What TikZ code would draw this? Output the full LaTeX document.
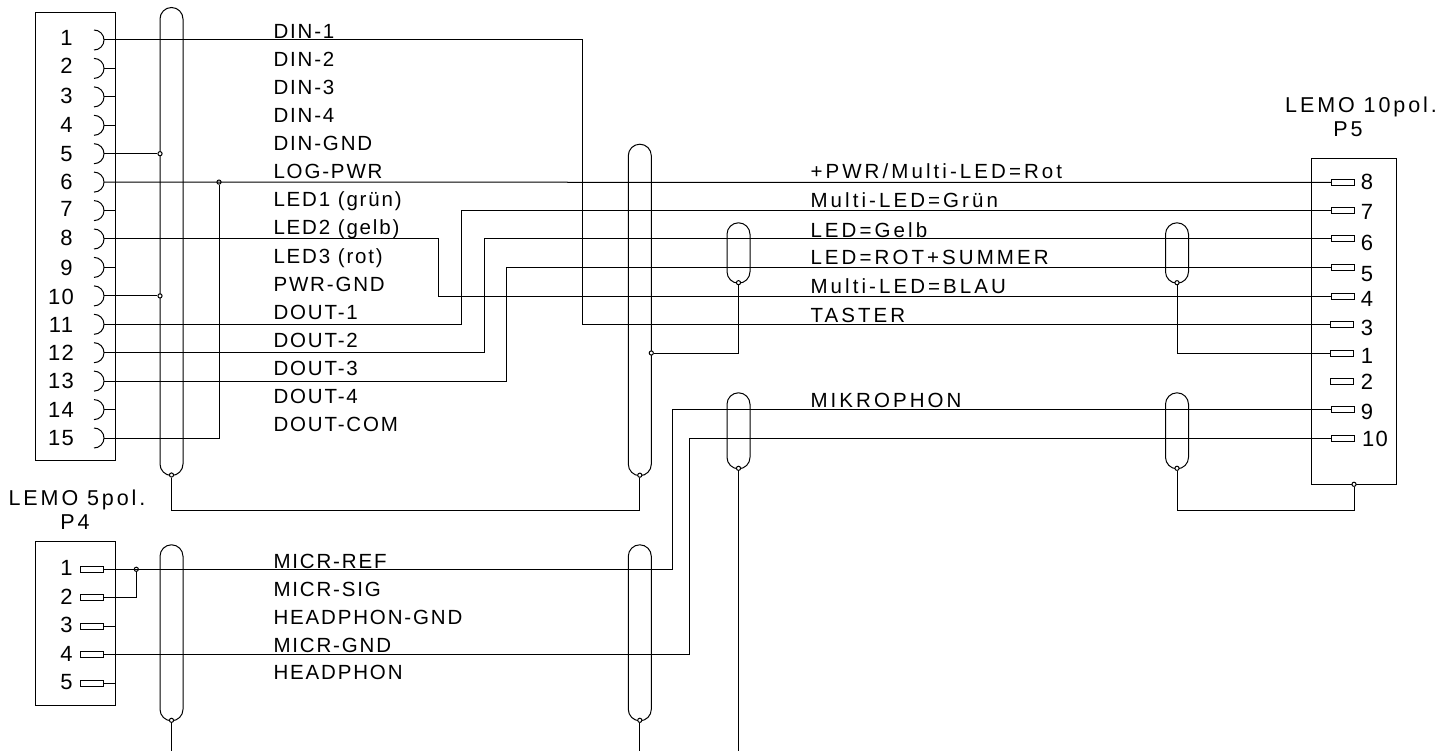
\documentclass[tikz,border=0pt]{standalone}
\usepackage{fontspec}
\setmainfont[LetterSpace=9]{Liberation Sans}
\newfontfamily\widefont[LetterSpace=15]{Liberation Sans}
\newfontfamily\titlefont[LetterSpace=13.5]{Liberation Sans}
\newfontfamily\pinfont[LetterSpace=6]{Liberation Sans}
\begin{document}
\begin{tikzpicture}[x=1pt,y=-1pt,line width=1pt,
  capsule/.style={draw,rectangle,rounded corners=11.5pt,inner sep=0pt,minimum width=23pt,minimum height=#1},
  pinrect/.style={draw,rectangle,inner sep=0pt,minimum width=23pt,minimum height=6pt},
  jdot/.style={draw,circle,inner sep=0pt,minimum size=4.2pt,fill=white},
  lbl/.style={anchor=base west,inner sep=0pt,font=\fontsize{20.5}{20.5}\selectfont},
  lblw/.style={anchor=base west,inner sep=0pt,font=\widefont\fontsize{20.5}{20.5}\selectfont},
  title/.style={anchor=base,inner sep=0pt,font=\titlefont\fontsize{21.5}{21.5}\selectfont},
  num/.style={anchor=base,inner sep=0pt,font=\pinfont\fontsize{22}{22}\selectfont}]
\useasboundingbox (0,0) rectangle (1455,751);
% connector bodies
\node[draw,inner sep=0pt,minimum width=79.7pt,minimum height=448pt,anchor=north west] (boxA) at (35,12) {};
\node[draw,inner sep=0pt,minimum width=79.7pt,minimum height=164pt,anchor=north west] (boxB) at (35,541) {};
\node[draw,inner sep=0pt,minimum width=84.8pt,minimum height=326pt,anchor=north west] (boxC) at (1310.7,158.3) {};
% capsules (shields)
\node[capsule=468pt,anchor=north] (s1) at (171.5,7) {};
\node[capsule=331.5pt,anchor=north] (s2) at (639.8,143.7) {};
\node[capsule=60.4pt,anchor=north] (s3) at (738.5,222.3) {};
\node[capsule=60.4pt,anchor=north] (s4) at (1177,222.3) {};
\node[capsule=76pt,anchor=north] (s5) at (738.5,392.3) {};
\node[capsule=76pt,anchor=north] (s6) at (1177,392.3) {};
\node[capsule=176pt,anchor=north] (s7) at (171.5,544.3) {};
\node[capsule=176pt,anchor=north] (s8) at (639.8,544.3) {};
% sockets P1
\foreach \n/\yy/\nx/\by in {1/40/66.5/46,2/68.4/66.5/74,3/96.9/66.5/104,4/125.3/66.5/132.5,5/153.7/66.5/161.5,6/182.1/66.5/190,7/210.6/66.5/217,8/239/66.5/246,9/267.4/66.5/275,10/295.9/61/304,11/324.3/61/332,12/352.7/61/360,13/381.1/61/388,14/409.6/61/417,15/438/61/445}{
  \coordinate (c\n) at (103.8,\yy);
  \coordinate (e\n) at (114.7,\yy);
  \draw (94,\yy-10) arc[start angle=-90,end angle=90,radius=10pt,y radius=-10pt];
  \node[num] (tA\n) at (\nx,\by) {\n};
}
% pins P4
\foreach \n/\yy in {1/569.3,2/597.7,3/626.2,4/654.7,5/683}{
  \node[pinrect] (q\n) at (92,\yy) {};
  \coordinate (qe\n) at (114.7,\yy);
  \node[num] (tB\n) at (66.5,\yy+6.5) {\n};
}
% pins P5
\foreach \n/\yy/\xx/\tx/\by in {8/182.5/1343/1367/190,7/210.7/1343/1367/220,6/239/1343/1367/250.5,5/267.5/1343/1367/281,4/296/1343/1367/306,3/324.3/1341.7/1367/335,1/353/1342/1367/363,2/381/1341.7/1367/389,9/409.7/1343/1367/419,10/438/1343/1375/446}{
  \node[pinrect] (r\n) at (\xx,\yy) {};
  \node[num] (tC\n) at (\tx,\by) {\n};
}
% stubs
\foreach \n in {2,3,4,7,9,14}{\draw (c\n) -- (e\n);}
\foreach \n in {3,5}{\draw (q\n.east) -- (qe\n);}
% routing guide coordinates
\coordinate (xA) at (582.3,0);
\coordinate (xB) at (438.7,0);
\coordinate (xC) at (461.3,0);
\coordinate (xD) at (484,0);
\coordinate (xE) at (506.7,0);
\coordinate (xF) at (219,0);
\coordinate (xG) at (672.5,0);
\coordinate (xH) at (689,0);
\coordinate (y510) at (0,510);
\coordinate (yEnd) at (0,751);
% junction dots
\node[jdot] (d5) at (160,153.7) {};
\node[jdot] (d10) at (160,295.9) {};
\node[jdot] (d6) at (219,182.1) {};
\node[jdot] (ds1) at (171.5,475) {};
\node[jdot] (ds2) at (639.8,475.2) {};
\node[jdot] (dm) at (651.3,353) {};
\node[jdot] (ds3) at (738.5,282.7) {};
\node[jdot] (ds4) at (1177,282.7) {};
\node[jdot] (ds5) at (738.5,468.3) {};
\node[jdot] (ds6) at (1177,468.3) {};
\node[jdot] (dC) at (1354,484.3) {};
\node[jdot] (dq) at (136.3,569.3) {};
\node[jdot] (ds7) at (171.5,720.3) {};
\node[jdot] (ds8) at (639.8,720.3) {};
% wires
\draw (c5) -- (d5);
\draw (c10) -- (d10);
\draw (c6) -- (r8.west);
\draw (c15) -- (c15 -| xF) -- (d6);
\draw (c1) -- (c1 -| xA) -- (xA |- r3) -- (r3.west);
\draw (c8) -- (c8 -| xB) -- (xB |- r4) -- (r4.west);
\draw (c11) -- (c11 -| xC) -- (xC |- r7) -- (r7.west);
\draw (c12) -- (c12 -| xD) -- (xD |- r6) -- (r6.west);
\draw (c13) -- (c13 -| xE) -- (xE |- r5) -- (r5.west);
\draw (ds1) -- (ds1 |- y510) -- (ds2 |- y510) -- (ds2);
\draw (dm) -- (dm -| ds3) -- (ds3);
\draw (ds4) -- (ds4 |- r1) -- (r1.west);
\draw (ds6) -- (ds6 |- y510) -- (dC |- y510) -- (dC);
\draw (ds5) -- (ds5 |- yEnd);
\draw (ds7) -- (ds7 |- yEnd);
\draw (ds8) -- (ds8 |- yEnd);
\draw (q1.east) -- (q1 -| xG) -- (xG |- r9) -- (r9.west);
\draw (q2.east) -- (q2 -| dq) -- (dq);
\draw (q4.east) -- (q4 -| xH) -- (xH |- r10) -- (r10.west);
% labels
\foreach \i/\t in {0/DIN-1,1/DIN-2,2/DIN-3,3/DIN-4,4/DIN-GND,5/LOG-PWR,6/LED1 (grün),7/LED2 (gelb),8/LED3 (rot),9/PWR-GND,10/DOUT-1,11/DOUT-2,12/DOUT-3,13/DOUT-4,14/DOUT-COM}{
  \node[lbl] (la\i) at (273,39+28*\i) {\t};
}
\node[lblw] (lb1) at (810,179) {+PWR/Multi-LED=Rot};
\node[lblw] (lb2) at (810,208) {Multi-LED=Grün};
\node[lblw] (lb3) at (810,237) {LED=Gelb};
\node[lblw] (lb4) at (810,265) {LED=ROT+SUMMER};
\node[lblw] (lb5) at (810,293) {Multi-LED=BLAU};
\node[lblw] (lb6) at (810,322) {TASTER};
\node[lblw] (lb7) at (810,407) {MIKROPHON};
\node[lbl] (lc1) at (273,568) {MICR-REF};
\node[lbl] (lc2) at (273,596.5) {MICR-SIG};
\node[lbl] (lc3) at (273,624) {HEADPHON-GND};
\node[lbl] (lc4) at (273,652) {MICR-GND};
\node[lbl] (lc5) at (273,679.5) {HEADPHON};
\node[title] (t1) at (1361,113) {LEMO 10pol.};
\node[title] (t2) at (1348,137) {P5};
\node[title] (t3) at (77,505) {LEMO 5pol.};
\node[title] (t4) at (75,529) {P4};
\end{tikzpicture}
\end{document}
